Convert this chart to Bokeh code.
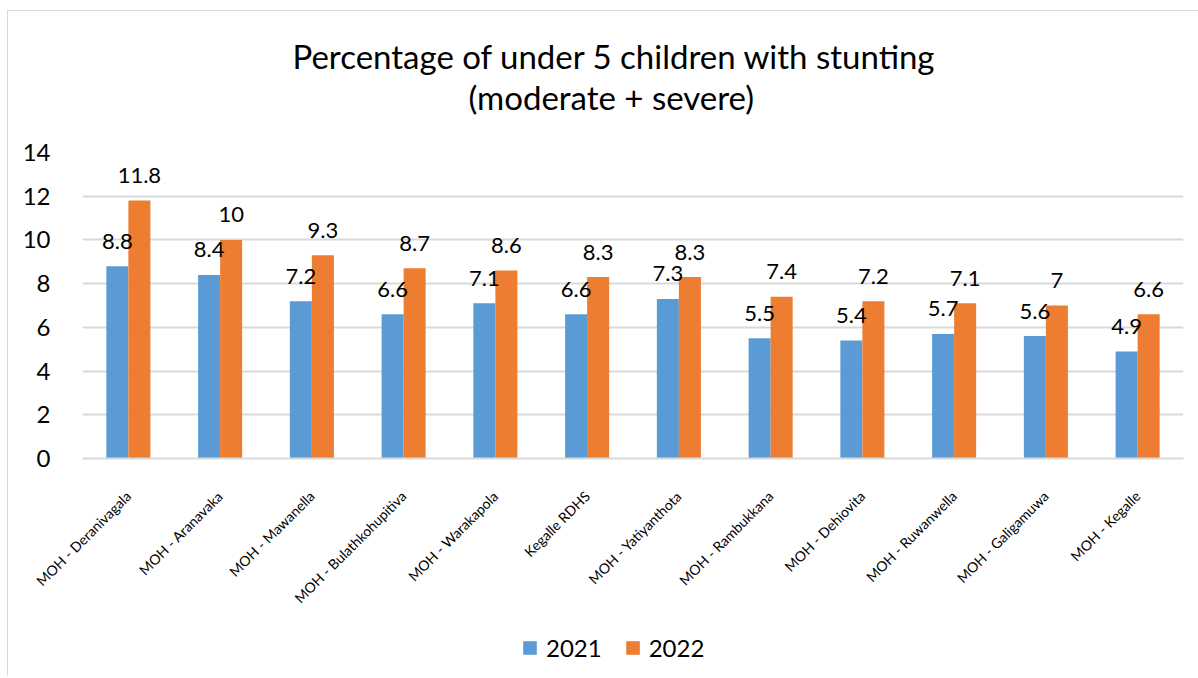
import math
from bokeh.plotting import figure
from bokeh.layouts import column
from bokeh.models import ColumnDataSource, LabelSet, Legend, LegendItem, Title, FactorRange, SingleIntervalTicker
from bokeh.core.properties import value
from bokeh.transform import dodge
from bokeh.embed import file_html
from bokeh.resources import INLINE

categories = ["MOH - Deranivagala", "MOH - Aranavaka", "MOH - Mawanella", "MOH - Bulathkohupitiva",
              "MOH - Warakapola", "Kegalle RDHS", "MOH - Yatiyanthota", "MOH - Rambukkana",
              "MOH - Dehiovita", "MOH - Ruwanwella", "MOH - Galigamuwa", "MOH - Kegalle"]
v2021 = [8.8, 8.4, 7.2, 6.6, 7.1, 6.6, 7.3, 5.5, 5.4, 5.7, 5.6, 4.9]
v2022 = [11.8, 10, 9.3, 8.7, 8.6, 8.3, 8.3, 7.4, 7.2, 7.1, 7, 6.6]
series = ["2021", "2022"]
title1 = "Percentage of under 5 children with stunting"
title2 = "(moderate + severe)"

FONT = "Lato"
BLUE = "#5B9BD5"
ORANGE = "#ED7D31"
GRID = "#D9D9D9"
COLORS = [BLUE, ORANGE]

src = ColumnDataSource(dict(cat=categories, v2021=v2021, v2022=v2022,
                            l2021=[f"{v:g}" for v in v2021], l2022=[f"{v:g}" for v in v2022]))

fig = figure(x_range=FactorRange(*categories), y_range=(0, 14),
             width=1190, height=609, output_backend="svg", toolbar_location=None,
             min_border_left=74, min_border_right=15, min_border_top=141, min_border_bottom=162)
fig.x_range.range_padding = 0

# line 2 is nearest the plot, so it is added first
fig.add_layout(Title(text=title2, align="left", offset=386, text_font=FONT, text_font_size="33px",
                     text_font_style="normal", text_color="#000000", standoff=72), "above")
fig.add_layout(Title(text=title1, align="left", offset=210, text_font=FONT, text_font_size="33px",
                     text_font_style="normal", text_color="#000000", standoff=-74), "above")

r1 = fig.vbar(x=dodge("cat", -0.12, range=fig.x_range), top="v2021", width=0.24, source=src,
              fill_color=BLUE, line_color=None)
r2 = fig.vbar(x=dodge("cat", 0.12, range=fig.x_range), top="v2022", width=0.24, source=src,
              fill_color=ORANGE, line_color=None)

for col, off in (("2021", -0.12), ("2022", 0.12)):
    fig.add_layout(LabelSet(x=dodge("cat", off, range=fig.x_range), y="v" + col, text="l" + col,
                            source=src, y_offset=25, text_align="center", text_baseline="middle",
                            text_font=value(FONT), text_font_size="22px", text_color="#000000"))

fig.xgrid.grid_line_color = None
fig.ygrid.grid_line_color = GRID
fig.ygrid.grid_line_width = 2
fig.yaxis.ticker = SingleIntervalTicker(interval=2)
fig.yaxis.axis_line_color = None
fig.yaxis.major_tick_line_color = None
fig.yaxis.minor_tick_line_color = None
fig.yaxis.major_label_text_font = FONT
fig.yaxis.major_label_text_font_size = "24px"
fig.yaxis.major_label_text_color = "#000000"
fig.yaxis.major_label_standoff = 26

fig.xaxis.axis_line_color = GRID
fig.xaxis.axis_line_width = 2
fig.xaxis.major_tick_line_color = None
fig.xaxis.minor_tick_line_color = None
fig.xaxis.major_label_orientation = math.pi / 4
fig.xaxis.major_label_text_font = FONT
fig.xaxis.major_label_text_font_size = "14px"
fig.xaxis.major_label_text_color = "#000000"
fig.xaxis.major_label_standoff = 29
fig.outline_line_color = None

# legend strip below the chart (zero-size proxy glyphs only carry the legend colours)
leg = figure(width=1190, height=56, output_backend="svg", toolbar_location=None,
             x_axis_location=None, y_axis_location=None, x_range=(0, 1), y_range=(0, 1),
             min_border_left=0, min_border_right=0, min_border_top=0, min_border_bottom=0)
leg.grid.visible = False
leg.outline_line_color = None
items = []
for name, c in zip(series, COLORS):
    rr = leg.vbar(x=[0], top=[0], bottom=[0], width=0, fill_color=c, line_color=None)
    items.append(LegendItem(label=name, renderers=[rr]))
legend = Legend(items=items, orientation="horizontal", location=(439, 14),
                label_text_font=FONT, label_text_font_size="24px", label_text_color="#000000",
                glyph_width=17, glyph_height=17, spacing=22, label_standoff=8, padding=0, margin=0,
                border_line_color=None, background_fill_alpha=0)
leg.add_layout(legend, "center")

p = column(fig, leg, spacing=0,
           styles={"margin-left": "7px", "margin-top": "10px",
                   "border-left": "1px solid #D9D9D9", "border-top": "1px solid #D9D9D9"})

open("out.html", "w").write(file_html(p, INLINE))
